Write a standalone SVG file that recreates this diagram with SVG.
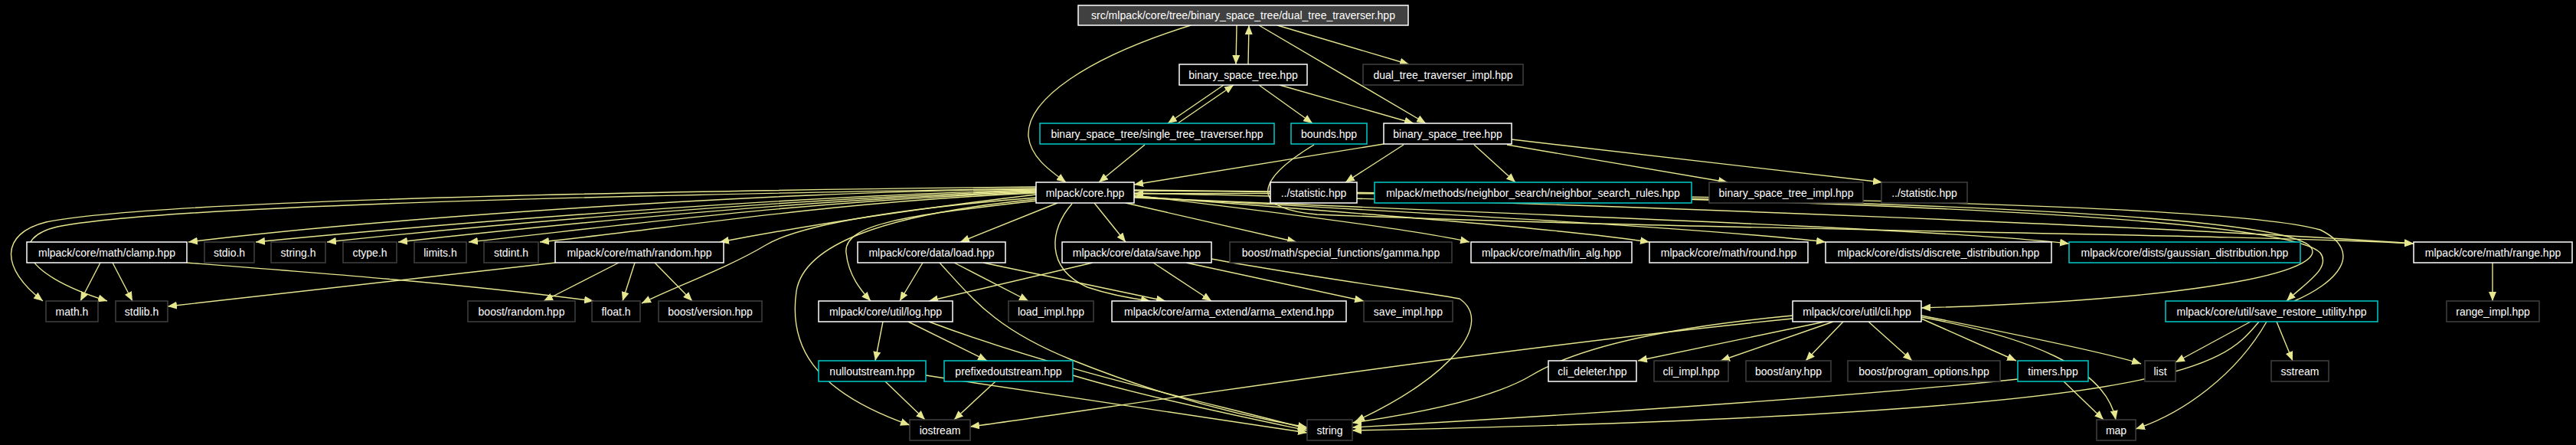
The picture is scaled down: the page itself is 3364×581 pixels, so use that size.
<svg xmlns="http://www.w3.org/2000/svg" width="3364" height="581" viewBox="0 0 3364 581">
<defs>
<marker id="ah" markerWidth="12" markerHeight="10" refX="12" refY="5" orient="auto" markerUnits="userSpaceOnUse"><path d="M0,0 L12,5 L0,10 z" fill="#e6e68f"/></marker>
<style>
.n rect{fill:#000;stroke:#ffffff;stroke-width:1.5}
.n.g rect{stroke:#404040}
.n.r rect{stroke:#00cccc}
.n.t rect{fill:#404040;stroke:#ffffff}
.n text{font-family:"Liberation Sans",Arial,sans-serif;font-size:14px;fill:#ffffff;text-anchor:middle}
.e path{fill:none;stroke:#e6e68f;stroke-width:1.4;marker-end:url(#ah)}
</style>
</defs>
<rect width="3364" height="581" fill="#000"/>
<g id="connectors" class="e">
<path d="M1555,33 C1420,75 1340,130 1343,178 C1346,205 1370,222 1392,238"/>
<path d="M1615,33 L1614,84"/>
<path d="M1630,84 L1631,33"/>
<path d="M1668,33 L1840,84"/>
<path d="M1644,33 L1862,161"/>
<path d="M1598,111 L1525,161"/>
<path d="M1538,161 L1611,111"/>
<path d="M1644,111 L1714,161"/>
<path d="M1671,111 L1846,161"/>
<path d="M1495,189 L1435,238"/>
<path d="M1807,188 L1481,241"/>
<path d="M1833,189 L1757,238"/>
<path d="M1925,189 L1979,238"/>
<path d="M1968,189 L2256,238"/>
<path d="M1974,182 L2458,238"/>
<path d="M1716,189 C1640,235 1630,272 1720,280 C2200,300 2900,305 3152,318"/>
<path d="M1353,247 C1000,250 500,285 246,316"/>
<path d="M1353,248 C1050,255 600,290 334,316"/>
<path d="M1353,249 C1050,258 650,292 427,316"/>
<path d="M1353,250 C1050,260 720,294 520,316"/>
<path d="M1353,251 C1050,262 800,296 612,316"/>
<path d="M1353,252 C1080,264 880,298 705,316"/>
<path d="M1353,244 C800,250 200,262 60,290 C0,305 0,350 56,393"/>
<path d="M1353,246 C800,255 220,268 75,296 C15,310 20,355 140,393"/>
<path d="M1354,258 C1200,270 1050,290 1000,320 C950,350 880,375 838,396"/>
<path d="M1353,254 C1200,272 1050,295 940,316"/>
<path d="M1354,262 C1200,280 1100,290 1105,330 C1108,360 1125,380 1137,393"/>
<path d="M1354,260 C1150,280 1050,320 1040,380 C1030,450 1060,510 1188,555"/>
<path d="M1381,265 L1254,316"/>
<path d="M1429,265 L1470,316"/>
<path d="M1400,266 C1370,300 1365,350 1420,375 C1450,385 1480,390 1502,393"/>
<path d="M1470,265 L1693,316"/>
<path d="M1481,255 C1650,275 1850,300 1919,316"/>
<path d="M1481,256 C1800,280 2050,300 2154,316"/>
<path d="M1481,257 C1900,280 2250,300 2384,316"/>
<path d="M1481,258 C2000,280 2550,300 2702,318"/>
<path d="M1481,252 C2100,265 2900,300 3152,318"/>
<path d="M1481,249 C2200,255 2950,270 3015,320 C3050,350 2900,390 2509,402"/>
<path d="M1481,248 C2300,255 2980,280 3030,330 C3045,350 3010,370 2986,393"/>
<path d="M2996,393 C3050,370 3090,330 3030,300 C2900,262 2000,250 1481,253"/>
<path d="M131,343 L105,393"/>
<path d="M147,343 L173,393"/>
<path d="M244,343 C400,355 600,370 775,393"/>
<path d="M725,343 L219,400"/>
<path d="M808,343 L710,393"/>
<path d="M829,343 L813,393"/>
<path d="M855,343 L904,393"/>
<path d="M1205,343 L1175,393"/>
<path d="M1246,343 L1343,393"/>
<path d="M1284,343 L1522,393"/>
<path d="M1227,343 C1270,390 1300,430 1400,470 C1500,510 1600,540 1707,558"/>
<path d="M1427,343 L1213,393"/>
<path d="M1506,343 L1582,393"/>
<path d="M1549,343 L1781,393"/>
<path d="M1582,338 C1700,360 1850,380 1906,390 C1950,420 1900,490 1770,550"/>
<path d="M1153,420 L1143,471"/>
<path d="M1186,420 L1289,471"/>
<path d="M1213,420 C1400,490 1600,530 1707,560"/>
<path d="M1156,498 L1208,548"/>
<path d="M1209,490 C1400,520 1600,548 1707,565"/>
<path d="M1300,498 L1246,548"/>
<path d="M1401,490 C1500,520 1650,550 1707,562"/>
<path d="M2341,416 C1900,460 1400,540 1267,557"/>
<path d="M2341,412 C2150,430 2050,460 2000,490 C1950,520 1850,540 1766,552"/>
<path d="M2383,420 L2139,471"/>
<path d="M2394,420 L2247,471"/>
<path d="M2407,420 L2358,471"/>
<path d="M2440,420 L2497,471"/>
<path d="M2509,416 L2633,471"/>
<path d="M2509,412 C2600,430 2750,460 2796,475"/>
<path d="M2509,414 C2650,440 2750,480 2763,548"/>
<path d="M2635,495 C2400,520 2000,545 1766,558"/>
<path d="M2950,420 C2900,480 2850,540 1766,562"/>
<path d="M2695,498 L2747,548"/>
<path d="M2939,420 L2841,473"/>
<path d="M2960,420 C2920,490 2850,540 2789,560"/>
<path d="M2973,420 L2994,471"/>
<path d="M3255,343 L3255,393"/>
</g>
<g id="n_top" class="n t"><rect x="1408" y="7" width="431" height="26"/><text x="1623.5" y="25">src/mlpack/core/tree/binary_space_tree/dual_tree_traverser.hpp</text></g>
<g id="n_bst1" class="n"><rect x="1540" y="84" width="167" height="27"/><text x="1623.5" y="102.5">binary_space_tree.hpp</text></g>
<g id="n_dtti" class="n g"><rect x="1780" y="84" width="209" height="27"/><text x="1884.5" y="102.5">dual_tree_traverser_impl.hpp</text></g>
<g id="n_stt" class="n r"><rect x="1358" y="161" width="306" height="27"/><text x="1511" y="179.5">binary_space_tree/single_tree_traverser.hpp</text></g>
<g id="n_bounds" class="n r"><rect x="1686" y="161" width="99" height="27"/><text x="1735.5" y="179.5">bounds.hpp</text></g>
<g id="n_bst2" class="n"><rect x="1807" y="161" width="167" height="27"/><text x="1890.5" y="179.5">binary_space_tree.hpp</text></g>
<g id="n_core" class="n"><rect x="1353" y="238" width="128" height="27"/><text x="1417" y="256.5">mlpack/core.hpp</text></g>
<g id="n_stat1" class="n"><rect x="1659" y="238" width="113" height="27"/><text x="1715.5" y="256.5">../statistic.hpp</text></g>
<g id="n_nsr" class="n r"><rect x="1795" y="238" width="414" height="27"/><text x="2002" y="256.5">mlpack/methods/neighbor_search/neighbor_search_rules.hpp</text></g>
<g id="n_bsti" class="n g"><rect x="2232" y="238" width="201" height="27"/><text x="2332.5" y="256.5">binary_space_tree_impl.hpp</text></g>
<g id="n_stat2" class="n g"><rect x="2457" y="238" width="112" height="27"/><text x="2513" y="256.5">../statistic.hpp</text></g>
<g id="n_clamp" class="n"><rect x="35" y="316" width="209" height="27"/><text x="139.5" y="334.5">mlpack/core/math/clamp.hpp</text></g>
<g id="n_stdio" class="n g"><rect x="267" y="316" width="65" height="27"/><text x="299.5" y="334.5">stdio.h</text></g>
<g id="n_stringh" class="n g"><rect x="354" y="316" width="71" height="27"/><text x="389.5" y="334.5">string.h</text></g>
<g id="n_ctype" class="n g"><rect x="448" y="316" width="70" height="27"/><text x="483" y="334.5">ctype.h</text></g>
<g id="n_limits" class="n g"><rect x="541" y="316" width="68" height="27"/><text x="575" y="334.5">limits.h</text></g>
<g id="n_stdint" class="n g"><rect x="632" y="316" width="71" height="27"/><text x="667.5" y="334.5">stdint.h</text></g>
<g id="n_random" class="n"><rect x="725" y="316" width="220" height="27"/><text x="835" y="334.5">mlpack/core/math/random.hpp</text></g>
<g id="n_load" class="n"><rect x="1120" y="316" width="193" height="27"/><text x="1216.5" y="334.5">mlpack/core/data/load.hpp</text></g>
<g id="n_save" class="n"><rect x="1387" y="316" width="195" height="27"/><text x="1484.5" y="334.5">mlpack/core/data/save.hpp</text></g>
<g id="n_gamma" class="n g"><rect x="1606" y="316" width="290" height="27"/><text x="1751" y="334.5">boost/math/special_functions/gamma.hpp</text></g>
<g id="n_linalg" class="n"><rect x="1921" y="316" width="210" height="27"/><text x="2026" y="334.5">mlpack/core/math/lin_alg.hpp</text></g>
<g id="n_round" class="n"><rect x="2154" y="316" width="207" height="27"/><text x="2257.5" y="334.5">mlpack/core/math/round.hpp</text></g>
<g id="n_discrete" class="n"><rect x="2384" y="316" width="295" height="27"/><text x="2531.5" y="334.5">mlpack/core/dists/discrete_distribution.hpp</text></g>
<g id="n_gauss" class="n r"><rect x="2702" y="316" width="302" height="27"/><text x="2853" y="334.5">mlpack/core/dists/gaussian_distribution.hpp</text></g>
<g id="n_range" class="n"><rect x="3152" y="316" width="207" height="27"/><text x="3255.5" y="334.5">mlpack/core/math/range.hpp</text></g>
<g id="n_math" class="n g"><rect x="60" y="393" width="68" height="27"/><text x="94" y="411.5">math.h</text></g>
<g id="n_stdlib" class="n g"><rect x="151" y="393" width="68" height="27"/><text x="185" y="411.5">stdlib.h</text></g>
<g id="n_brandom" class="n g"><rect x="611" y="393" width="140" height="27"/><text x="681" y="411.5">boost/random.hpp</text></g>
<g id="n_float" class="n g"><rect x="773" y="393" width="63" height="27"/><text x="804.5" y="411.5">float.h</text></g>
<g id="n_bversion" class="n g"><rect x="860" y="393" width="135" height="27"/><text x="927.5" y="411.5">boost/version.hpp</text></g>
<g id="n_log" class="n"><rect x="1069" y="393" width="175" height="27"/><text x="1156.5" y="411.5">mlpack/core/util/log.hpp</text></g>
<g id="n_loadimpl" class="n g"><rect x="1317" y="393" width="111" height="27"/><text x="1372.5" y="411.5">load_impl.hpp</text></g>
<g id="n_arma" class="n"><rect x="1452" y="393" width="306" height="27"/><text x="1605" y="411.5">mlpack/core/arma_extend/arma_extend.hpp</text></g>
<g id="n_saveimpl" class="n g"><rect x="1781" y="393" width="116" height="27"/><text x="1839" y="411.5">save_impl.hpp</text></g>
<g id="n_cli" class="n"><rect x="2341" y="393" width="168" height="27"/><text x="2425" y="411.5">mlpack/core/util/cli.hpp</text></g>
<g id="n_sru" class="n r"><rect x="2828" y="393" width="277" height="27"/><text x="2966.5" y="411.5">mlpack/core/util/save_restore_utility.hpp</text></g>
<g id="n_rangeimpl" class="n g"><rect x="3195" y="393" width="121" height="27"/><text x="3255.5" y="411.5">range_impl.hpp</text></g>
<g id="n_nullout" class="n r"><rect x="1069" y="471" width="140" height="27"/><text x="1139" y="489.5">nulloutstream.hpp</text></g>
<g id="n_prefixed" class="n r"><rect x="1233" y="471" width="168" height="27"/><text x="1317" y="489.5">prefixedoutstream.hpp</text></g>
<g id="n_clideleter" class="n"><rect x="2022" y="471" width="115" height="27"/><text x="2079.5" y="489.5">cli_deleter.hpp</text></g>
<g id="n_cliimpl" class="n g"><rect x="2160" y="471" width="97" height="27"/><text x="2208.5" y="489.5">cli_impl.hpp</text></g>
<g id="n_bany" class="n g"><rect x="2280" y="471" width="111" height="27"/><text x="2335.5" y="489.5">boost/any.hpp</text></g>
<g id="n_bpo" class="n g"><rect x="2413" y="471" width="199" height="27"/><text x="2512.5" y="489.5">boost/program_options.hpp</text></g>
<g id="n_timers" class="n r"><rect x="2635" y="471" width="92" height="27"/><text x="2681" y="489.5">timers.hpp</text></g>
<g id="n_list" class="n g"><rect x="2801" y="471" width="40" height="27"/><text x="2821" y="489.5">list</text></g>
<g id="n_sstream" class="n g"><rect x="2966" y="471" width="75" height="27"/><text x="3003.5" y="489.5">sstream</text></g>
<g id="n_iostream" class="n g"><rect x="1188" y="548" width="79" height="27"/><text x="1227.5" y="566.5">iostream</text></g>
<g id="n_string" class="n g"><rect x="1707" y="548" width="59" height="27"/><text x="1736.5" y="566.5">string</text></g>
<g id="n_map" class="n g"><rect x="2738" y="548" width="51" height="27"/><text x="2763.5" y="566.5">map</text></g>
</svg>
